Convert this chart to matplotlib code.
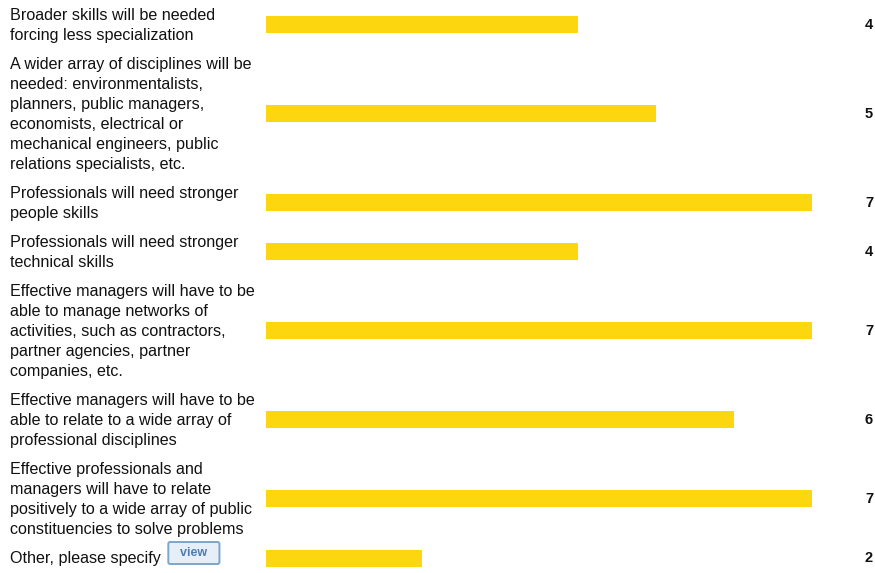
import matplotlib
matplotlib.use("Agg")
import matplotlib.pyplot as plt

plt.rcParams["font.family"] = ["Liberation Sans", "DejaVu Sans"]

# answer options and number of responses
labels = [
    "Broader skills will be needed\nforcing less specialization",
    "A wider array of disciplines will be\nneeded: environmentalists,\nplanners, public managers,\n"
    "economists, electrical or\nmechanical engineers, public\nrelations specialists, etc.",
    "Professionals will need stronger\npeople skills",
    "Professionals will need stronger\ntechnical skills",
    "Effective managers will have to be\nable to manage networks of\nactivities, such as contractors,\n"
    "partner agencies, partner\ncompanies, etc.",
    "Effective managers will have to be\nable to relate to a wide array of\nprofessional disciplines",
    "Effective professionals and\nmanagers will have to relate\npositively to a wide array of public\n"
    "constituencies to solve problems",
    "Other, please specify",
]
counts = [4, 5, 7, 4, 7, 6, 7, 2]

W, H = 875, 573
fig = plt.figure(figsize=(W / 100, H / 100), dpi=100)

# bar area: zero at 266px, 7 responses reach 812px
x0, x7, xr = 266, 812, 873
ax = fig.add_axes([x0 / W, 0, (xr - x0) / W, 1])
xmax = 7 * (xr - x0) / (x7 - x0)
ax.set_xlim(0, xmax)
ax.set_ylim(H, 0)
ax.axis("off")

# row centres follow the height of each wrapped label
line_h = 20.2
gap = 8.3
top = 5
centres = []
for i, lab in enumerate(labels):
    n = lab.count("\n") + 1
    h = n * line_h + (2 if i == len(labels) - 1 else 0)
    centres.append(top + h / 2)
    top += h + gap

label_x = 10 / W
for lab, c, v in zip(labels, centres, counts):
    ax.barh(c - 1, v, height=17, color="#FCD70F", left=0)
    t = fig.text(label_x, 1 - c / H, lab, ha="left", va="center",
                 fontsize=11.6, linespacing=1.42, color="#111111")
    ax.text(xmax, c - 0.5, str(v), ha="right", va="center", fontsize=10.5,
            fontweight="bold", color="#111111", clip_on=False)

# the small "view" button after the last label
ax.annotate("  view  ", xy=(1, 0.5), xycoords=t, xytext=(33, 6),
            textcoords="offset pixels", ha="center", va="center",
            fontsize=9, fontweight="bold", color="#4F7FAE",
            bbox=dict(boxstyle="round,pad=0.4,rounding_size=0.15",
                      fc="#E6EFF8", ec="#7DA6CB", lw=1.4))

fig.savefig("out.png", dpi=100)
